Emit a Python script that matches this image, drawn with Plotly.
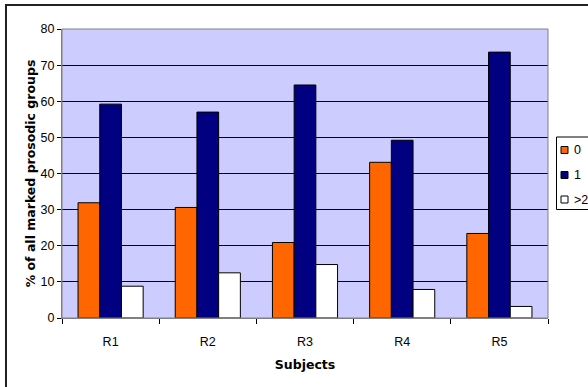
import plotly.graph_objects as go

subjects = ["R1", "R2", "R3", "R4", "R5"]
zero_pct = [31.9, 30.6, 20.9, 43.1, 23.4]
one_pct = [59.2, 57.0, 64.5, 49.2, 73.6]
more_pct = [8.8, 12.5, 14.8, 7.9, 3.2]

series = [
    ("0", zero_pct, "#FF6600"),
    ("1", one_pct, "#000080"),
    (">2", more_pct, "#FFFFFF"),
]

W, H = 588, 387
L, R, T, B = 62, 40, 29, 69
pw, ph = W - L - R, H - T - B


def px(x):
    return (x - L) / pw


def py(y):
    return (T + ph - y) / ph


fig = go.Figure()
for name, vals, col in series:
    fig.add_trace(go.Bar(
        x=subjects, y=vals, name=name,
        marker=dict(color=col, line=dict(color="#000000", width=1)),
    ))

tick_font = dict(family="Liberation Sans, Arial, sans-serif", size=12.5, color="#000000")
title_font = dict(family="DejaVu Sans, sans-serif", size=12.5, color="#000000")

shapes = [
    # plot-area frame
    dict(type="rect", xref="paper", yref="paper", x0=0, x1=1, y0=0, y1=1,
         line=dict(color="#808080", width=1), layer="above"),
    # outer chart frame
    dict(type="rect", xref="paper", yref="paper",
         x0=px(6), x1=px(600), y0=py(400), y1=py(5),
         line=dict(color="#222222", width=2)),
    # legend box
    dict(type="rect", xref="paper", yref="paper",
         x0=px(556.5), x1=px(600), y0=py(209.5), y1=py(137),
         fillcolor="#FFFFFF", line=dict(color="#000000", width=1)),
]
annotations = []

# legend entries
legend_rows = [150, 175, 199.5]
for (name, _, col), yc in zip(series, legend_rows):
    shapes.append(dict(
        type="rect", xref="paper", yref="paper",
        x0=px(561), x1=px(568), y0=py(yc + 3.5), y1=py(yc - 3.5),
        fillcolor=col, line=dict(color="#000000", width=1),
    ))
    annotations.append(dict(
        xref="paper", yref="paper", x=px(571.5), y=py(yc),
        xanchor="left", yanchor="middle", showarrow=False,
        text=name.replace(">", "&gt;"), font=tick_font,
    ))

fig.update_layout(
    width=W, height=H,
    margin=dict(l=L, r=R, t=T, b=B),
    paper_bgcolor="#FFFFFF",
    plot_bgcolor="#CCCCFF",
    barmode="group",
    bargap=0.33,
    bargroupgap=0,
    font=tick_font,
    showlegend=False,
    xaxis=dict(
        type="category",
        showline=True, linecolor="#808080", linewidth=1,
        ticks="outside", tickson="boundaries", ticklen=5, tickcolor="#000000",
        ticklabelstandoff=12, tickfont=tick_font,
        showgrid=False,
        title=dict(text="<b>Subjects</b>", font=title_font, standoff=12),
    ),
    yaxis=dict(
        range=[0, 80], dtick=10,
        showline=True, linecolor="#808080", linewidth=1,
        ticks="outside", ticklen=4, tickcolor="#000000",
        tickfont=tick_font,
        showgrid=True, gridcolor="#000000", gridwidth=1,
        zeroline=False,
        title=dict(text="<b>% of all marked prosodic groups</b>", font=title_font, standoff=2),
    ),
    shapes=shapes,
    annotations=annotations,
)

fig.write_html("out.html")
